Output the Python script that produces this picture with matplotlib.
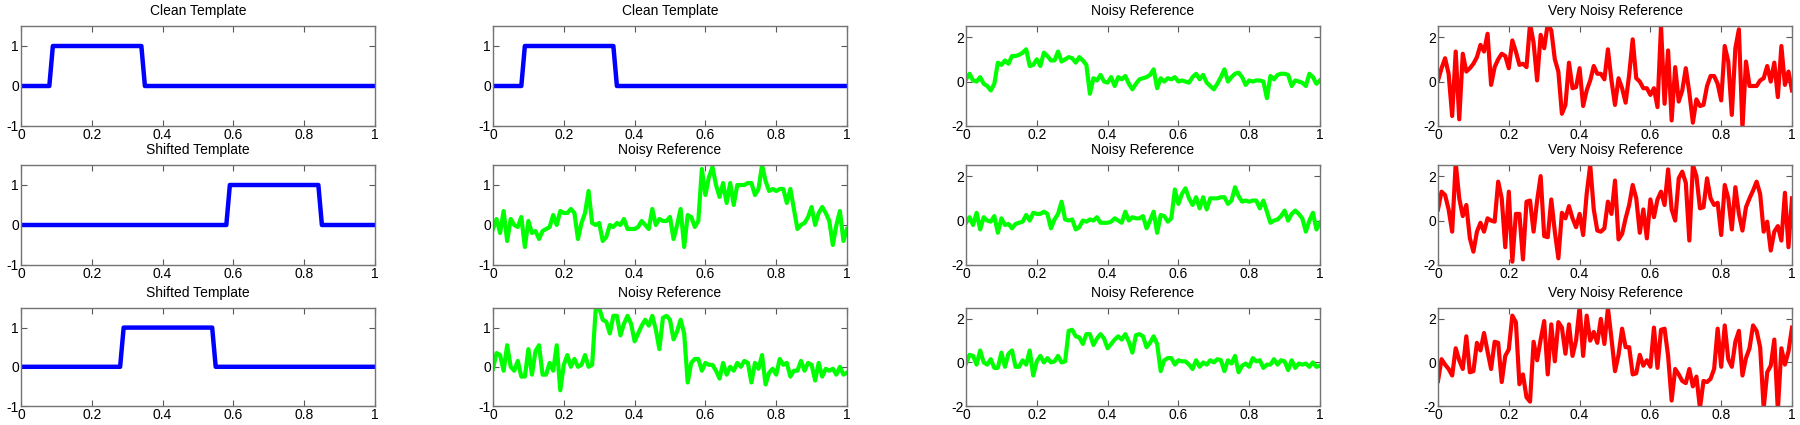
import numpy as np
import matplotlib
matplotlib.use("Agg")
from matplotlib import pyplot as plt

plt.rcParams["font.family"] = ["Liberation Sans", "DejaVu Sans"]
plt.rcParams["font.size"] = 10

# time axis of the sampled signals (0.01 spacing)
t = np.arange(101) / 100.0

# clean / shifted templates as breakpoints of the pulse
tmpl_x = [
    [0, 0.08, 0.09, 0.34, 0.35, 1],
    [0, 0.58, 0.59, 0.84, 0.85, 1],
    [0, 0.28, 0.29, 0.54, 0.55, 1],
]
tmpl_y = [0, 0, 1, 1, 0, 0]

noisy1 = [0.1, 0.35, 0.05, 0.0, 0.2, -0.1, -0.2, -0.4, -0.1, 0.85,
          0.75, 0.95, 0.8, 1.15, 1.15, 1.2, 1.3, 1.45, 0.7, 0.75,
          1.0, 0.7, 1.3, 1.15, 0.95, 0.95, 1.35, 0.9, 1.0, 1.1,
          1.05, 0.85, 1.1, 0.95, 0.75, -0.55, 0.15, 0.05, 0.3, 0.0,
          -0.05, 0.2, -0.2, 0.2, 0.1, 0.25, -0.1, -0.35, -0.1, 0.1,
          0.15, 0.2, 0.3, 0.55, -0.3, 0.15, 0.0, 0.15, 0.1, 0.2,
          0.0, 0.05, 0.0, -0.05, 0.2, 0.35, 0.1, 0.3, -0.05, -0.2,
          -0.35, -0.1, 0.2, 0.55, 0.0, 0.2, 0.35, 0.4, 0.2, -0.15,
          0.05, 0.0, 0.05, 0.05, 0.0, -0.75, 0.25, 0.1, 0.3, 0.35,
          0.35, 0.3, -0.2, 0.05, 0.0, -0.05, -0.2, 0.35, 0.2, -0.1,
          0.05]

noisy2 = [-0.1, 0.15, -0.2, 0.35, -0.4, 0.15, 0.0, -0.05, 0.2, -0.55,
          0.1, -0.2, -0.15, -0.35, -0.15, -0.1, -0.05, 0.25, 0.0, 0.35,
          0.3, 0.3, 0.4, 0.3, -0.35, 0.05, 0.3, 0.85, 0.05, 0.0,
          0.05, -0.4, -0.3, 0.0, -0.05, 0.05, 0.0, 0.15, -0.1, -0.1,
          -0.1, -0.05, 0.1, 0.0, -0.1, 0.4, 0.0, 0.15, 0.1, 0.1,
          0.2, -0.35, 0.0, 0.4, -0.55, 0.25, 0.2, -0.05, 0.1, 1.4,
          0.75, 1.2, 1.45, 1.0, 0.7, 1.05, 0.55, 1.05, 0.5, 1.0,
          1.0, 1.0, 1.05, 1.05, 0.75, 0.9, 1.5, 1.1, 0.85, 0.9,
          0.85, 0.9, 0.9, 0.55, 0.9, 0.4, -0.1, 0.0, 0.05, 0.2,
          0.45, 0.0, 0.3, 0.45, 0.3, 0.1, -0.5, 0.0, 0.35, -0.4,
          -0.1]

noisy3 = [-0.05, 0.35, 0.3, -0.1, 0.55, 0.0, -0.1, 0.15, -0.25, -0.25,
          0.45, -0.2, 0.4, 0.55, -0.2, -0.2, 0.1, -0.1, 0.55, -0.6,
          0.05, 0.3, 0.0, 0.2, 0.0, 0.05, 0.3, 0.0, 0.05, 1.45,
          1.5, 1.2, 1.15, 0.85, 1.3, 1.3, 0.8, 1.1, 1.3, 1.1,
          0.65, 0.85, 1.05, 1.2, 1.05, 1.3, 0.95, 0.45, 1.25, 1.3,
          1.2, 0.7, 0.9, 1.2, 0.85, -0.4, 0.1, 0.2, 0.2, -0.1,
          0.1, 0.05, 0.05, -0.1, -0.3, 0.1, -0.2, 0.0, -0.1, 0.1,
          0.0, 0.15, 0.1, -0.4, 0.1, -0.05, 0.3, -0.45, -0.15, -0.05,
          -0.2, 0.2, 0.05, 0.1, -0.25, -0.1, -0.1, 0.15, -0.1, 0.1,
          0.05, -0.35, 0.1, -0.25, -0.05, -0.1, -0.05, -0.2, 0.0, -0.2,
          -0.15]

vnoisy1 = [0.05, 0.6, 1.05, 0.35, -1.55, 1.35, -1.7, 1.25, 0.45, 0.6,
           0.8, 1.1, 1.65, 1.35, 2.15, -0.15, 0.65, 1.0, 1.25, 1.15,
           0.6, 1.85, 1.35, 0.75, 0.8, 0.65, 2.6, 1.75, 0.05, 2.1,
           1.5, 2.6, 2.3, 1.0, 0.45, -1.45, -1.05, 0.85, -0.3, -0.25,
           0.6, -1.1, -0.4, 0.05, 0.7, 0.35, 0.35, 0.1, 1.45, 0.05,
           -1.05, 0.15, -0.3, -0.95, 0.3, 1.9, 0.15, 0.0, -0.3, -0.3,
           -0.6, -0.3, -1.15, 2.5, -1.0, 1.4, -1.75, 0.65, -0.9, -0.4,
           0.6, -0.5, -1.85, -0.8, -1.1, -1.05, -0.2, 0.25, 0.25, -0.1,
           -0.85, 1.6, 0.9, -1.5, 1.5, 2.35, -2.1, 0.9, -0.2, -0.2,
           -0.2, 0.05, 0.15, 0.7, 0.0, 0.85, -0.7, 1.6, -0.15, 0.45,
           -0.4]

vnoisy2 = [0.5, 1.3, 1.15, 0.5, -0.5, 2.6, 1.0, 0.2, 0.7, -0.8,
           -1.4, -0.5, -0.1, -0.5, 0.1, 0.0, -0.05, 1.75, 1.0, -1.2,
           1.3, -1.85, 0.3, 0.3, -1.75, 0.85, 0.9, -0.5, 0.9, 2.0,
           -0.7, -0.75, 0.95, -0.5, -1.7, 0.35, 0.1, 0.65, 0.1, -0.3,
           0.3, -0.65, 1.2, 2.5, 0.5, -0.45, -0.5, -0.35, 0.85, 0.3,
           1.8, -0.85, -0.6, 0.1, 0.7, 1.6, 1.0, -0.55, 0.5, -0.8,
           0.95, 0.15, 0.95, 1.3, 0.7, 2.3, 0.5, 0.0, 1.9, 2.2,
           1.7, -0.9, 2.5, 2.0, 0.55, 0.6, 1.9, 1.0, 0.7, 0.8,
           -0.65, 1.6, 1.0, -0.4, 1.5, 0.3, -0.45, 0.6, 1.0, 1.35,
           1.75, 1.2, -0.5, -0.05, -1.35, -0.5, -0.25, -0.9, 1.25, -1.2,
           1.0]

vnoisy3 = [-0.85, 0.15, -0.1, -0.3, -0.6, 0.65, 0.1, -0.3, 1.2, -0.45,
           -0.4, 0.9, 0.55, 1.35, 0.5, -0.3, 0.95, 0.9, -0.9, 0.3,
           0.6, 2.15, 1.85, -1.0, -0.55, -1.6, -1.8, 0.95, 0.1, 1.05,
           1.9, -0.55, 1.75, 0.05, 1.85, 1.6, 0.4, 1.75, 0.3, 1.0,
           2.55, 0.3, 2.15, 1.0, 1.4, 0.9, 2.0, 0.85, 2.5, 1.1,
           -0.4, 0.35, 1.55, 0.7, 0.7, -0.55, -0.5, 0.35, -0.15, 0.1,
           -0.2, 1.6, -0.25, 1.5, 1.55, 0.3, -1.75, -0.3, -0.55, -0.85,
           -0.95, -0.3, -1.1, -0.65, -2.1, -0.85, -0.9, -0.75, -0.3, 1.55,
           -0.2, 1.7, 0.15, -0.2, 0.95, 1.45, -0.6, 0.2, 0.65, 1.7,
           1.45, 0.7, -2.1, -0.45, -0.15, 1.05, -2.2, 0.65, -0.1, 0.5,
           1.6]

W, H = 1800, 425
col_left = [21, 493, 966, 1438]
row_top = [26, 165, 308]
row_h = [100, 100, 98]
ax_w = 354

fig = plt.figure(figsize=(W / 100, H / 100), dpi=100)


def make_ax(r, c, title, ylim, yticks):
    ax = fig.add_axes([col_left[c] / W, 1 - (row_top[r] + row_h[r]) / H,
                       ax_w / W, row_h[r] / H])
    ax.set_xlim(0, 1)
    ax.set_ylim(*ylim)
    ax.set_xticks([0, 0.2, 0.4, 0.6, 0.8, 1])
    ax.set_xticklabels(["0", "0.2", "0.4", "0.6", "0.8", "1"])
    ax.set_yticks(yticks)
    ax.set_yticklabels([str(v) for v in yticks])
    ax.tick_params(direction="in", top=True, right=True, length=4,
                   width=0.8, color="0.35", labelsize=10, pad=1.5)
    for s in ax.spines.values():
        s.set_color("0.45")
        s.set_linewidth(1.0)
    ax.set_title(title, fontsize=10, pad=8)
    return ax


small = ((-1, 1.5), [-1, 0, 1])
big = ((-2, 2.5), [-2, 0, 2])

# column 1: templates
titles1 = ["Clean Template", "Shifted Template", "Shifted Template"]
for r in range(3):
    ax = make_ax(r, 0, titles1[r], *small)
    ax.plot(tmpl_x[r], tmpl_y, color="#0000ff", lw=3.2)

# column 2: clean template, then noisy references
ax = make_ax(0, 1, "Clean Template", *small)
ax.plot(tmpl_x[0], tmpl_y, color="#0000ff", lw=3.2)
ax = make_ax(1, 1, "Noisy Reference", *small)
ax.plot(t, noisy2, color="#00ff00", lw=3)
ax = make_ax(2, 1, "Noisy Reference", *small)
ax.plot(t, noisy3, color="#00ff00", lw=3)

# column 3: noisy references on wider scale
for r, sig in enumerate([noisy1, noisy2, noisy3]):
    ax = make_ax(r, 2, "Noisy Reference", *big)
    ax.plot(t, sig, color="#00ff00", lw=3)

# column 4: very noisy references
for r, sig in enumerate([vnoisy1, vnoisy2, vnoisy3]):
    ax = make_ax(r, 3, "Very Noisy Reference", *big)
    ax.plot(t, sig, color="#ff0000", lw=3)

fig.savefig("out.png", dpi=100)
